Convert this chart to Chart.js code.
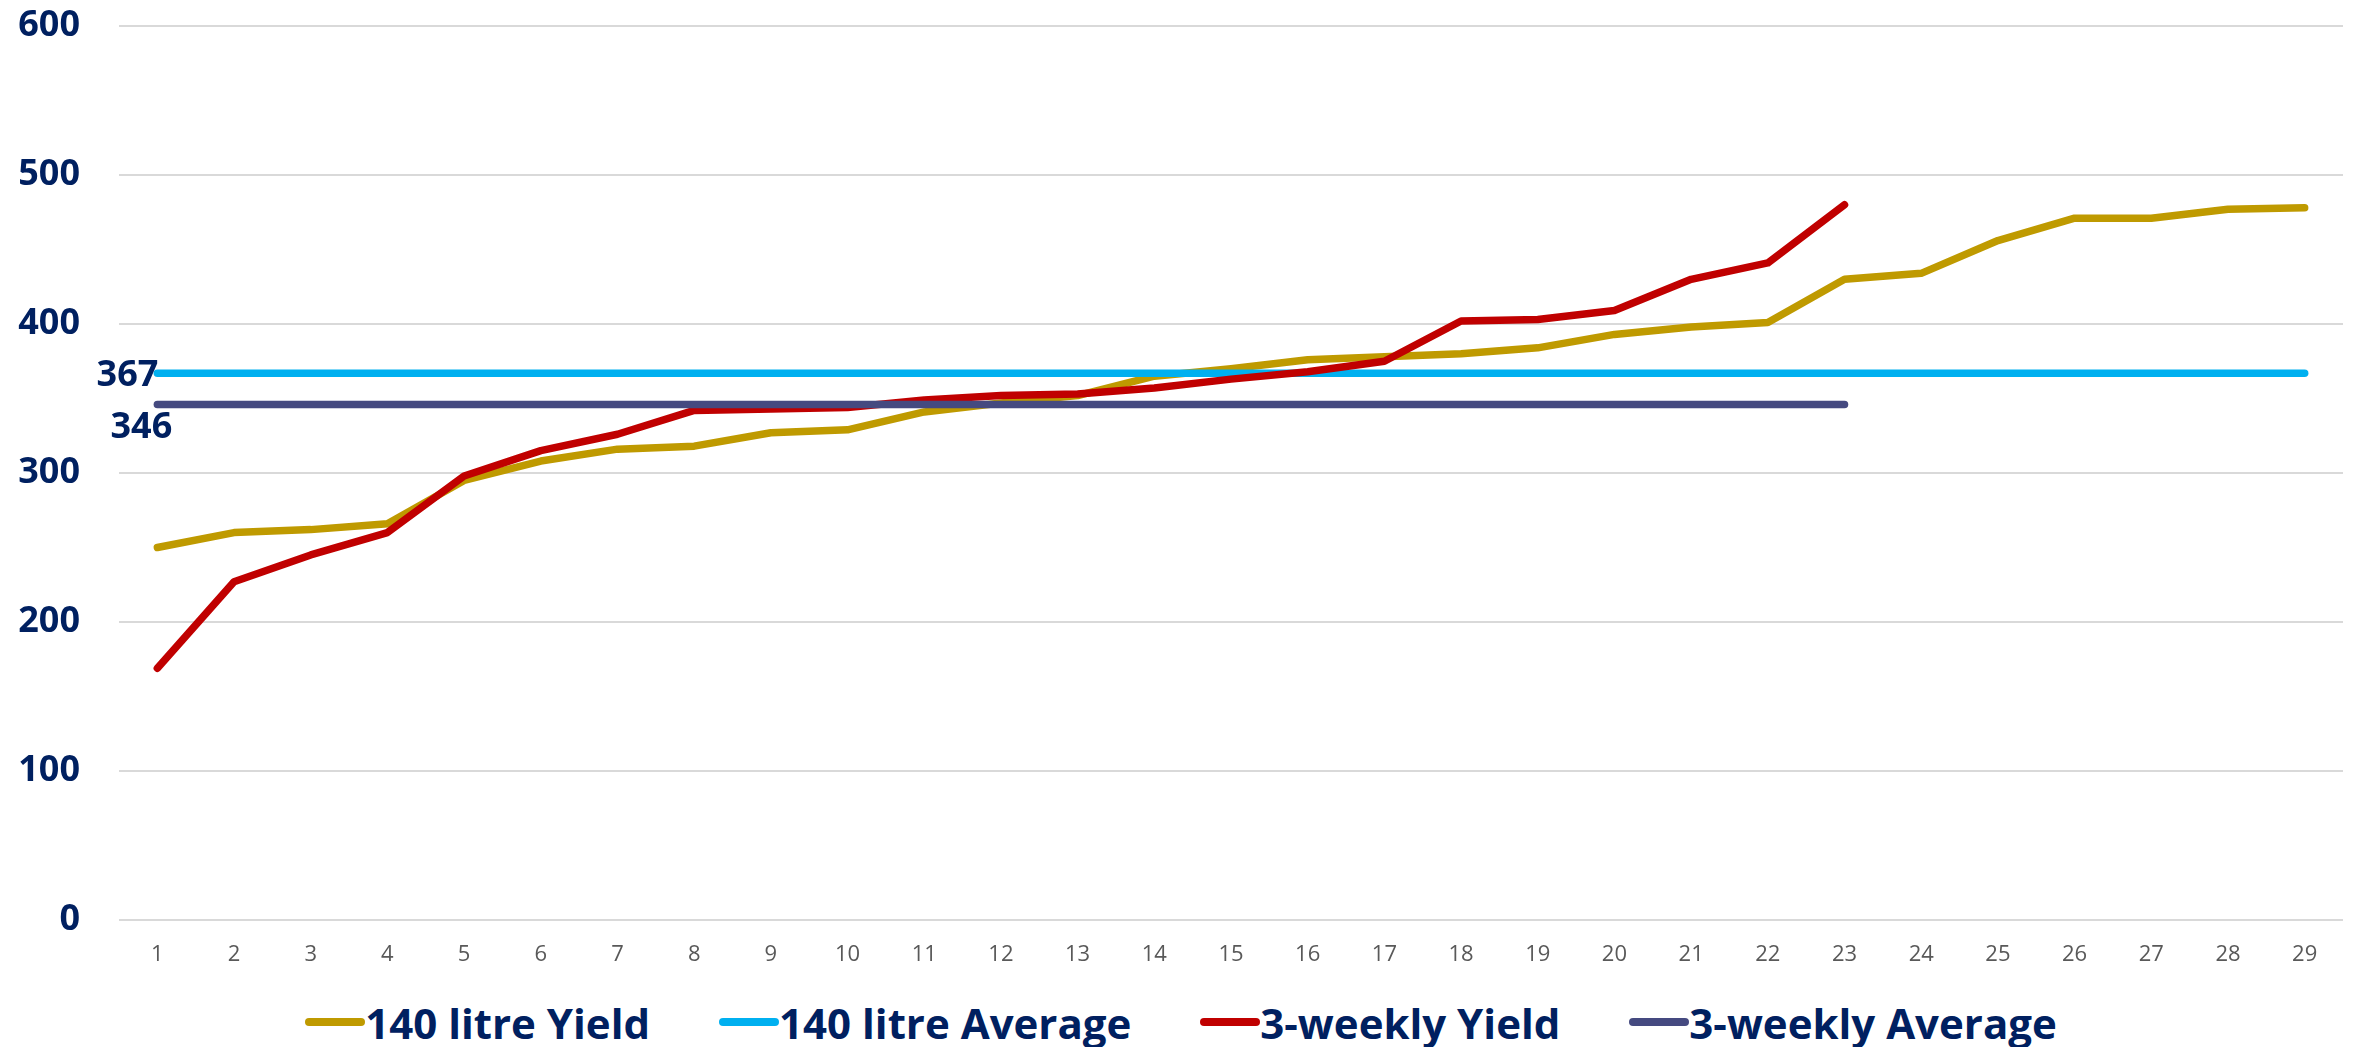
<!DOCTYPE html>
<html>
<head>
<meta charset="utf-8">
<script src="https://cdn.jsdelivr.net/npm/chart.js@4.4.1/dist/chart.umd.min.js"></script>
<style>
  html, body { margin: 0; padding: 0; background: #fff; }
  body { width: 2362px; height: 1047px; position: relative; overflow: hidden; font-family: "Open Sans", sans-serif; }
  #wrap { position: absolute; left: 0; top: 0; width: 2362px; height: 971px; }
  #legend {
    position: absolute; left: 0; top: 992px; width: 2362px; height: 60px;
    display: flex; justify-content: center; align-items: center; gap: 69px;
  }
  .item { display: flex; align-items: center; font-weight: 700; font-size: 42px; color: #002060; white-space: nowrap; }
  .swatch { width: 60px; height: 8px; border-radius: 4px; }
</style>
</head>
<body>
<div id="wrap"><canvas id="chart"></canvas></div>
<div id="legend"></div>
<script>
// x categories (sample number)
const categories = ["1","2","3","4","5","6","7","8","9","10","11","12","13","14","15",
  "16","17","18","19","20","21","22","23","24","25","26","27","28","29"];

// 140 litre bins, sorted yield
const yield140 = [250, 260, 262, 266, 295, 308, 316, 318, 327, 329, 341, 347, 352, 365, 370,
  376, 378, 380, 384, 393, 398, 401, 430, 434, 456, 471, 471, 477, 478];
const average140 = [367, 367, 367, 367, 367, 367, 367, 367, 367, 367, 367, 367, 367, 367, 367,
  367, 367, 367, 367, 367, 367, 367, 367, 367, 367, 367, 367, 367, 367];

// 3-weekly collection, sorted yield
const yieldWeekly = [169, 227, 245, 260, 298, 315, 326, 342, 343, 344, 349, 352, 353, 357, 363,
  368, 375, 402, 403, 409, 430, 441, 480];
const averageWeekly = [346, 346, 346, 346, 346, 346, 346, 346, 346, 346, 346, 346, 346, 346, 346,
  346, 346, 346, 346, 346, 346, 346, 346];

const yTicks = { min: 0, max: 600, step: 100 };

const NAVY = "#002060";
const series = [
  { label: "140 litre Yield", data: yield140, color: "#BF9A00" },
  { label: "140 litre Average", data: average140, color: "#00B0F0" },
  { label: "3-weekly Yield", data: yieldWeekly, color: "#C00000" },
  { label: "3-weekly Average", data: averageWeekly, color: "#454A80" },
];

/** Value label on the first point of each average line (367 left, 346 below). */
const avgLabels = {
  id: "avgLabels",
  afterDatasetsDraw(chart) {
    const ctx = chart.ctx;
    ctx.save();
    ctx.font = "bold 36px 'Open Sans'";
    ctx.fillStyle = NAVY;
    ctx.textBaseline = "alphabetic";

    const a = chart.getDatasetMeta(1).data[0];
    ctx.textAlign = "right";
    ctx.fillText(String(average140[0]), a.x + 1, a.y + 12.5);

    const b = chart.getDatasetMeta(3).data[0];
    ctx.textAlign = "center";
    ctx.fillText(String(averageWeekly[0]), b.x - 16, b.y + 34);
    ctx.restore();
  },
};

const ctx = document.getElementById("chart").getContext("2d");
new Chart(ctx, {
  type: "line",
  data: {
    labels: categories,
    datasets: series.map((s, i) => ({
      label: s.label,
      data: s.data,
      borderColor: s.color,
      backgroundColor: s.color,
      borderWidth: 7.5,
      borderCapStyle: "round",
      borderJoinStyle: "round",
      pointRadius: 0,
      tension: 0,
      fill: false,
      order: series.length - i, // later series on top, like the source
    })),
  },
  options: {
    responsive: true,
    maintainAspectRatio: false,
    animation: false,
    layout: { padding: { left: 18, right: 19, top: 26, bottom: 0 } },
    plugins: {
      legend: { display: false },
      tooltip: { enabled: false },
    },
    scales: {
      x: {
        offset: true,
        grid: { display: false, drawTicks: false },
        border: { display: false },
        ticks: {
          color: "#595959",
          font: { family: "Open Sans", size: 22 },
          padding: 22,
          maxRotation: 0,
          autoSkip: false,
        },
        // pin the axis box so the plot area matches the source
        afterFit(s) {
          s.height = 51;
          s.paddingLeft = 0;
          s.paddingRight = 0;
        },
      },
      y: {
        min: yTicks.min,
        max: yTicks.max,
        grid: { color: "#D9D9D9", lineWidth: 2, drawTicks: false },
        border: { display: false },
        ticks: {
          stepSize: yTicks.step,
          color: NAVY,
          font: { family: "Open Sans", size: 36, weight: "bold" },
          padding: 39,
        },
        afterFit(s) {
          s.width = 101;
          s.paddingTop = 0;
          s.paddingBottom = 0;
        },
      },
    },
  },
  plugins: [avgLabels],
});

// HTML legend: line swatch butted against bold text
const legend = document.getElementById("legend");
series.forEach((s) => {
  const item = document.createElement("div");
  item.className = "item";
  const sw = document.createElement("span");
  sw.className = "swatch";
  sw.style.backgroundColor = s.color;
  const text = document.createElement("span");
  text.textContent = s.label;
  item.appendChild(sw);
  item.appendChild(text);
  legend.appendChild(item);
});
</script>
</body>
</html>
